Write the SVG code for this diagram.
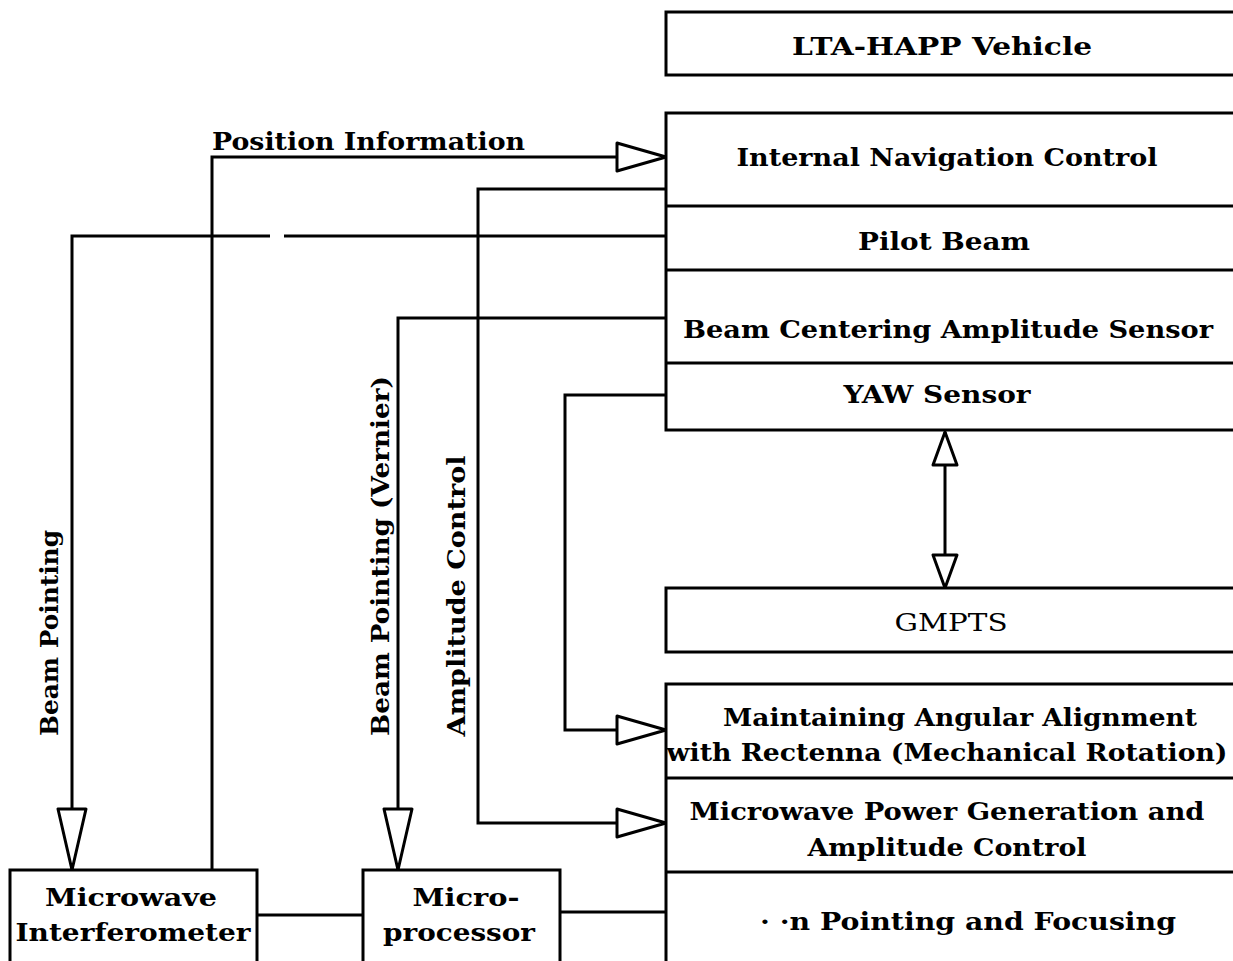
<svg xmlns="http://www.w3.org/2000/svg" width="1233" height="961" viewBox="0 0 1233 961">
<style>
.box{fill:#fff;stroke:#000;stroke-width:3}
.ln{fill:none;stroke:#000;stroke-width:3}
.t{font-family:"DejaVu Serif","Liberation Serif",serif;font-weight:bold;font-size:24px;fill:#000}
.m{text-anchor:middle}
</style>
<defs>
<marker id="arr" markerUnits="userSpaceOnUse" markerWidth="54" markerHeight="34" refX="51" refY="16" orient="auto" overflow="visible">
<path d="M2,2 L51,16 L2,30 Z" fill="#fff" stroke="#000" stroke-width="3" stroke-linejoin="round"/>
</marker>
<marker id="arrL" markerUnits="userSpaceOnUse" markerWidth="66" markerHeight="34" refX="63" refY="16" orient="auto" overflow="visible">
<path d="M2,2 L63,16 L2,30 Z" fill="#fff" stroke="#000" stroke-width="3" stroke-linejoin="round"/>
</marker>
<marker id="arrS" markerUnits="userSpaceOnUse" markerWidth="40" markerHeight="30" refX="35" refY="13" orient="auto" overflow="visible">
<path d="M2,1 L35,13 L2,25 Z" fill="#fff" stroke="#000" stroke-width="3" stroke-linejoin="round"/>
</marker>
</defs>
<rect width="1233" height="961" fill="#fff"/>

<g id="connectors">
<path class="ln" d="M212,870 L212,157 L666,157" marker-end="url(#arr)"/>
<path class="ln" d="M666,189 L478,189 L478,823 L666,823" marker-end="url(#arr)"/>
<path class="ln" d="M666,236 L284,236 M270,236 L72,236 L72,870" marker-end="url(#arrL)"/>
<path class="ln" d="M666,318 L398,318 L398,870" marker-end="url(#arrL)"/>
<path class="ln" d="M666,395 L565,395 L565,730 L666,730" marker-end="url(#arr)"/>
<path class="ln" d="M945,500 L945,432" marker-end="url(#arrS)"/>
<path class="ln" d="M945,500 L945,588" marker-end="url(#arrS)"/>
<path class="ln" d="M257,915 L363,915"/>
<path class="ln" d="M560,912 L666,912"/>
<text class="t" x="212" y="150" textLength="313" lengthAdjust="spacingAndGlyphs">Position Information</text>
<text class="t m" transform="translate(58,633) rotate(-90)" textLength="206" lengthAdjust="spacingAndGlyphs">Beam Pointing</text>
<text class="t m" transform="translate(389,556) rotate(-90)" textLength="360" lengthAdjust="spacingAndGlyphs">Beam Pointing (Vernier)</text>
<text class="t m" transform="translate(465,596) rotate(-90)" textLength="281" lengthAdjust="spacingAndGlyphs">Amplitude Control</text>
</g>

<g id="lta-happ-vehicle">
<rect class="box" x="666" y="12" width="600" height="63"/>
<text class="t m" x="942" y="55" textLength="300" lengthAdjust="spacingAndGlyphs">LTA-HAPP Vehicle</text>
</g>

<g id="vehicle-stack">
<rect class="box" x="666" y="113" width="600" height="317"/>
<line class="ln" x1="666" y1="206" x2="1240" y2="206"/>
<line class="ln" x1="666" y1="270" x2="1240" y2="270"/>
<line class="ln" x1="666" y1="363" x2="1240" y2="363"/>
</g>
<g id="internal-navigation-control">
<text class="t m" x="947" y="166" textLength="421" lengthAdjust="spacingAndGlyphs">Internal Navigation Control</text>
</g>
<g id="pilot-beam">
<text class="t m" x="944" y="250" textLength="172" lengthAdjust="spacingAndGlyphs">Pilot Beam</text>
</g>
<g id="beam-centering-amplitude-sensor">
<text class="t m" x="948" y="338" textLength="530" lengthAdjust="spacingAndGlyphs">Beam Centering Amplitude Sensor</text>
</g>
<g id="yaw-sensor">
<text class="t m" x="937" y="403" textLength="187" lengthAdjust="spacingAndGlyphs">YAW Sensor</text>
</g>

<g id="gmpts">
<rect class="box" x="666" y="588" width="600" height="64"/>
<text class="t m" x="951" y="631" textLength="113" lengthAdjust="spacingAndGlyphs" style="font-weight:normal">GMPTS</text>
</g>

<g id="ground-stack">
<rect class="box" x="666" y="684" width="600" height="300"/>
<line class="ln" x1="666" y1="778" x2="1240" y2="778"/>
<line class="ln" x1="666" y1="872" x2="1240" y2="872"/>
</g>
<g id="angular-alignment">
<text class="t m" x="960" y="726" textLength="474" lengthAdjust="spacingAndGlyphs">Maintaining Angular Alignment</text>
<text class="t m" x="947" y="761" textLength="561" lengthAdjust="spacingAndGlyphs">with Rectenna (Mechanical Rotation)</text>
</g>
<g id="microwave-power-generation">
<text class="t m" x="947" y="820" textLength="515" lengthAdjust="spacingAndGlyphs">Microwave Power Generation and</text>
<text class="t m" x="947" y="856" textLength="279" lengthAdjust="spacingAndGlyphs">Amplitude Control</text>
</g>
<g id="beam-pointing-focusing">
<text class="t m" x="968" y="930" textLength="416" lengthAdjust="spacingAndGlyphs">· ·n Pointing and Focusing</text>
</g>

<g id="microwave-interferometer">
<rect class="box" x="10" y="870" width="247" height="100"/>
<text class="t m" x="131" y="906" textLength="172" lengthAdjust="spacingAndGlyphs">Microwave</text>
<text class="t m" x="133" y="941" textLength="235" lengthAdjust="spacingAndGlyphs">Interferometer</text>
</g>

<g id="microprocessor">
<rect class="box" x="363" y="870" width="197" height="100"/>
<text class="t m" x="466" y="906" textLength="107" lengthAdjust="spacingAndGlyphs">Micro-</text>
<text class="t m" x="459" y="941" textLength="152" lengthAdjust="spacingAndGlyphs">processor</text>
</g>
</svg>
